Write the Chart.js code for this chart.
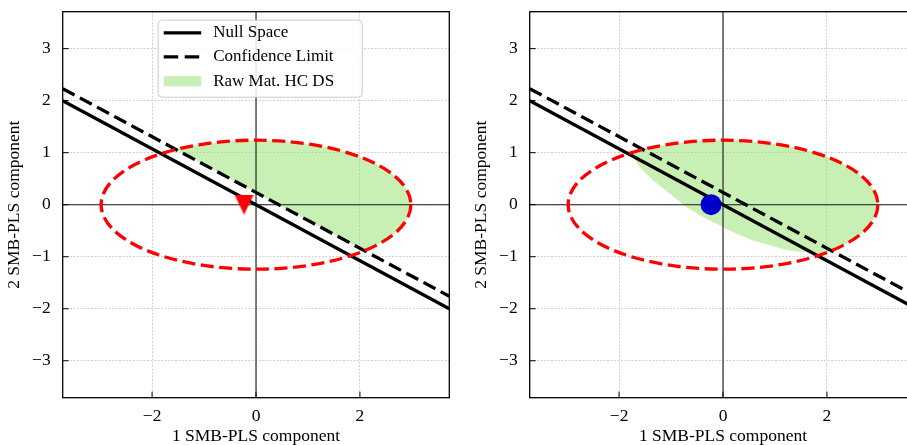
<!DOCTYPE html>
<html><head><meta charset="utf-8">
<script src="https://cdn.jsdelivr.net/npm/chart.js@4.4.0/dist/chart.umd.min.js"></script>
<style>
html,body{margin:0;padding:0;background:#fff;overflow:hidden;width:907px;height:445px;position:relative;}
#wrapL{position:absolute;left:0;top:0;width:460px;height:445px;}
#wrapR{position:absolute;left:467px;top:0;width:460px;height:445px;}
canvas{display:block;}
</style></head><body>
<div id="wrapL"><canvas id="cL" width="460" height="445"></canvas></div>
<div id="wrapR"><canvas id="cR" width="460" height="445"></canvas></div>
<script>
// ---------- data ----------
const xRange = [-3.72, 3.72];
const yRange = [-3.71, 3.71];
const xTickVals = [-2, 0, 2];
const yTickVals = [-3, -2, -1, 0, 1, 2, 3];
const nullSpaceX = [-3.72, 3.72];
const nullSpaceY = [2.0, -2.0];
const confLimitX = [-3.72, 3.72];
const confLimitY = [2.23, -1.76];
const ellipseCenter = [0, 0];
const ellipseSemiAxes = [2.98, 1.24];
const leftMarker = [-0.23, 0.0];
const rightMarker = [-0.23, 0.0];
const rightHcdsLowerX = [-1.85, -1.73, -1.60, -1.35, -1.02, -0.70, -0.38, -0.06, 0.26, 0.58, 0.90, 1.22, 1.54, 1.86, 2.30];
const rightHcdsLowerY = [1.10, 0.92, 0.72, 0.47, 0.21, -0.05, -0.24, -0.40, -0.56, -0.69, -0.78, -0.87, -0.91, -0.93, -1.00];
const legendLabels = ['Null Space', 'Confidence Limit', 'Raw Mat. HC DS'];
const xTitle = '1 SMB-PLS component';
const yTitle = '2 SMB-PLS component';

// ---------- styles ----------
const FONT = 'Liberation Serif';
const GREEN = 'rgba(146,226,106,0.5)';
const RED = '#ff0000';
const BLUE = '#0000cd';
const DASH = [13.5, 6];
const LW = 3.3;

const fmt = v => (v < 0 ? '\u2212' + Math.abs(v) : String(v));

// left panel green region: above confidence limit, clipped by ellipse
const leftHcdsX = [confLimitX[0], confLimitX[1], xRange[1], xRange[0]];
const leftHcdsY = [confLimitY[0], confLimitY[1], yRange[1], yRange[1]];
// right panel green region: above lower boundary, clipped by ellipse
const rightHcdsX = rightHcdsLowerX.concat([xRange[1], xRange[1], -2.0]);
const rightHcdsY = rightHcdsLowerY.concat([-1.0, yRange[1], yRange[1]]);

function triangleImg() {
  const c = document.createElement('canvas');
  c.width = 19; c.height = 20;
  const g = c.getContext('2d');
  g.fillStyle = RED;
  g.beginPath(); g.moveTo(0, 0); g.lineTo(19, 0); g.lineTo(9.5, 20); g.closePath(); g.fill();
  return c;
}

function ellipsePath(ctx, chart) {
  const xs = chart.scales.x, ys = chart.scales.y;
  const cx = xs.getPixelForValue(ellipseCenter[0]);
  const cy = ys.getPixelForValue(ellipseCenter[1]);
  const rx = Math.abs(xs.getPixelForValue(ellipseCenter[0] + ellipseSemiAxes[0]) - cx);
  const ry = Math.abs(ys.getPixelForValue(ellipseCenter[1] + ellipseSemiAxes[1]) - cy);
  ctx.beginPath();
  ctx.ellipse(cx, cy, rx, ry, 0, 0, Math.PI * 2);
}

const decor = {
  id: 'decor',
  beforeDatasetsDraw(chart, args, opts) {
    const ctx = chart.ctx, a = chart.chartArea, xs = chart.scales.x, ys = chart.scales.y;
    ctx.save();
    ctx.beginPath(); ctx.rect(a.left, a.top, a.width, a.height); ctx.clip();
    ellipsePath(ctx, chart); ctx.clip();
    ctx.fillStyle = GREEN;
    ctx.beginPath();
    opts.polyX.forEach((v, i) => {
      const px = xs.getPixelForValue(v), py = ys.getPixelForValue(opts.polyY[i]);
      if (i === 0) ctx.moveTo(px, py); else ctx.lineTo(px, py);
    });
    ctx.closePath(); ctx.fill();
    ctx.restore();
    // zero lines
    ctx.save();
    ctx.strokeStyle = '#1a1a1a'; ctx.lineWidth = 1.1;
    const x0 = xs.getPixelForValue(0), y0 = ys.getPixelForValue(0);
    ctx.beginPath(); ctx.moveTo(x0, a.top); ctx.lineTo(x0, a.bottom);
    ctx.moveTo(a.left, y0); ctx.lineTo(a.right, y0); ctx.stroke();
    ctx.restore();
  },
  beforeDatasetDraw(chart, args) {
    if (args.index !== 0) return;
    const ctx = chart.ctx, a = chart.chartArea;
    ctx.save();
    ctx.beginPath(); ctx.rect(a.left, a.top, a.width, a.height); ctx.clip();
    ellipsePath(ctx, chart);
    ctx.strokeStyle = RED; ctx.lineWidth = LW; ctx.setLineDash([13, 5.5]);
    ctx.stroke();
    ctx.restore();
  },
  afterDraw(chart, args, opts) {
    const ctx = chart.ctx, a = chart.chartArea, xs = chart.scales.x, ys = chart.scales.y;
    ctx.save();
    ctx.strokeStyle = '#000'; ctx.lineWidth = 1;
    ctx.beginPath();
    xTickVals.forEach(v => { const px = xs.getPixelForValue(v); ctx.moveTo(px, a.bottom); ctx.lineTo(px, a.bottom - 6); });
    yTickVals.forEach(v => { const py = ys.getPixelForValue(v); ctx.moveTo(a.left, py); ctx.lineTo(a.left + 6, py); });
    ctx.stroke();
    ctx.lineWidth = 1.3;
    ctx.strokeRect(a.left, a.top, a.width, a.height);
    ctx.restore();
    if (!opts.legend) return;
    // legend box
    const bx = a.left + 95.5, by = a.top + 8.5, bw = 204, bh = 77, r = 4;
    ctx.save();
    ctx.beginPath();
    ctx.moveTo(bx + r, by); ctx.lineTo(bx + bw - r, by); ctx.arcTo(bx + bw, by, bx + bw, by + r, r);
    ctx.lineTo(bx + bw, by + bh - r); ctx.arcTo(bx + bw, by + bh, bx + bw - r, by + bh, r);
    ctx.lineTo(bx + r, by + bh); ctx.arcTo(bx, by + bh, bx, by + bh - r, r);
    ctx.lineTo(bx, by + r); ctx.arcTo(bx, by, bx + r, by, r); ctx.closePath();
    ctx.fillStyle = 'rgba(255,255,255,0.85)'; ctx.fill();
    ctx.strokeStyle = '#cccccc'; ctx.lineWidth = 1; ctx.stroke();
    const lx0 = bx + 5.5, lx1 = bx + 43, tx = bx + 55;
    const rows = [by + 12.7, by + 36.7, by + 61];
    ctx.strokeStyle = '#000'; ctx.lineWidth = LW;
    ctx.beginPath(); ctx.moveTo(lx0, rows[0]); ctx.lineTo(lx1, rows[0]); ctx.stroke();
    ctx.setLineDash([14.5, 6.5]);
    ctx.beginPath(); ctx.moveTo(lx0, rows[1]); ctx.lineTo(lx1, rows[1]); ctx.stroke();
    ctx.setLineDash([]);
    ctx.fillStyle = GREEN; ctx.fillRect(lx0, rows[2] - 5, lx1 - lx0, 10);
    ctx.fillStyle = '#000'; ctx.font = '17px "' + FONT + '"'; ctx.textBaseline = 'middle'; ctx.textAlign = 'left';
    legendLabels.forEach((t, i) => ctx.fillText(t, tx, rows[i]));
    ctx.restore();
  }
};

function makeChart(id, marker, polyX, polyY, withLegend) {
  const markerDs = withLegend
    ? { data: [{ x: marker[0], y: marker[1] }], pointStyle: triangleImg(), pointRadius: 10, showLine: false, backgroundColor: RED, borderWidth: 0 }
    : { data: [{ x: marker[0], y: marker[1] }], pointStyle: 'circle', pointRadius: 10.5, showLine: false, backgroundColor: BLUE, borderColor: BLUE, borderWidth: 0 };
  return new Chart(document.getElementById(id), {
    type: 'scatter',
    data: {
      datasets: [
        markerDs,
        { data: confLimitX.map((v, i) => ({ x: v, y: confLimitY[i] })), showLine: true, borderColor: '#000', borderWidth: LW, borderDash: DASH, pointRadius: 0 },
        { data: nullSpaceX.map((v, i) => ({ x: v, y: nullSpaceY[i] })), showLine: true, borderColor: '#000', borderWidth: LW, pointRadius: 0 }
      ]
    },
    options: {
      responsive: false, animation: false, events: [], devicePixelRatio: 1,
      layout: { padding: { left: 0, right: 10.7, top: 11.7, bottom: 0 } },
      plugins: { legend: { display: false }, tooltip: { enabled: false }, decor: { polyX, polyY, legend: withLegend } },
      scales: {
        x: {
          type: 'linear', min: xRange[0], max: xRange[1],
          afterFit: s => { s.height = 47.3; s.paddingLeft = 0; s.paddingRight = 0; },
          afterBuildTicks: s => { s.ticks = xTickVals.map(v => ({ value: v })); },
          ticks: { padding: 8, color: '#000', autoSkip: false, maxRotation: 0, font: { family: FONT, size: 17.5 }, callback: v => fmt(v) },
          grid: { color: '#c4c4c4', lineWidth: 0.8, drawTicks: false },
          border: { display: false, dash: [2, 1.5] },
          title: { display: true, text: xTitle, color: '#000', font: { family: FONT, size: 17.5, lineHeight: 1 }, padding: { top: 0, bottom: 0 } }
        },
        y: {
          type: 'linear', min: yRange[0], max: yRange[1],
          afterFit: s => { s.width = 62.7; s.paddingTop = 0; s.paddingBottom = 0; },
          afterBuildTicks: s => { s.ticks = yTickVals.map(v => ({ value: v })); },
          ticks: { padding: 12, color: '#000', autoSkip: false, font: { family: FONT, size: 17.5 }, callback: v => fmt(v) },
          grid: { color: '#c4c4c4', lineWidth: 0.8, drawTicks: false },
          border: { display: false, dash: [2, 1.5] },
          title: { display: true, text: yTitle, color: '#000', font: { family: FONT, size: 17.5, lineHeight: 1.2 }, padding: { top: 4, bottom: 0 } }
        }
      }
    },
    plugins: [decor]
  });
}

makeChart('cL', leftMarker, leftHcdsX, leftHcdsY, true);
makeChart('cR', rightMarker, rightHcdsX, rightHcdsY, false);
</script>
</body></html>
